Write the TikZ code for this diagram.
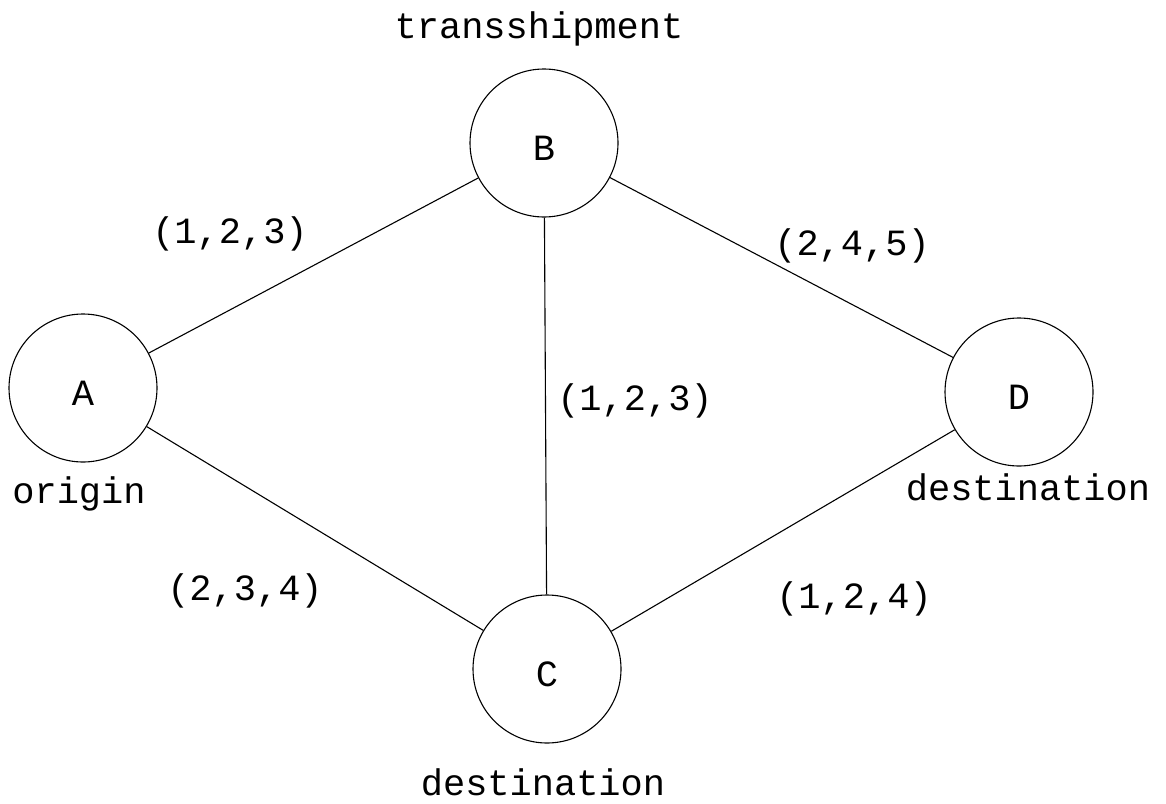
\documentclass[tikz,border=0pt]{standalone}
\usepackage{fontspec}
\setmonofont{Liberation Mono}
\begin{document}
\begin{tikzpicture}[x=1pt,y=-1pt,
  vertex/.style={draw,circle,line width=1.1pt,minimum size=148pt,inner sep=0pt,
    text height=34pt,text depth=0pt,font=\ttfamily\fontsize{37}{40}\selectfont},
  caption/.style={anchor=base,inner sep=0pt,font=\ttfamily\fontsize{37}{40}\selectfont},
  link/.style={line width=1.1pt}]
\useasboundingbox (0,0) rectangle (1166,803);
% vertices
\node[vertex] (A) at (83,388) {A};
\node[vertex] (B) at (544,143) {B};
\node[vertex] (C) at (547,669) {C};
\node[vertex] (D) at (1019,392) {D};
% arcs
\draw[link] (A) -- (B);
\draw[link] (A) -- (C);
\draw[link] (B) -- (C);
\draw[link] (B) -- (D);
\draw[link] (C) -- (D);
% vertex roles
\node[caption] (tB) at (539,38) {transshipment};
\node[caption] (tA) at (79,503) {origin};
\node[caption] (tD) at (1028,500) {destination};
\node[caption] (tC) at (543,795) {destination};
% arc parameters
\node[caption] (lAB) at (230,243) {(1,2,3)};
\node[caption] (lBD) at (852,255) {(2,4,5)};
\node[caption] (lBC) at (635,410) {(1,2,3)};
\node[caption] (lAC) at (245,600) {(2,3,4)};
\node[caption] (lCD) at (854,608) {(1,2,4)};
\end{tikzpicture}
\end{document}
